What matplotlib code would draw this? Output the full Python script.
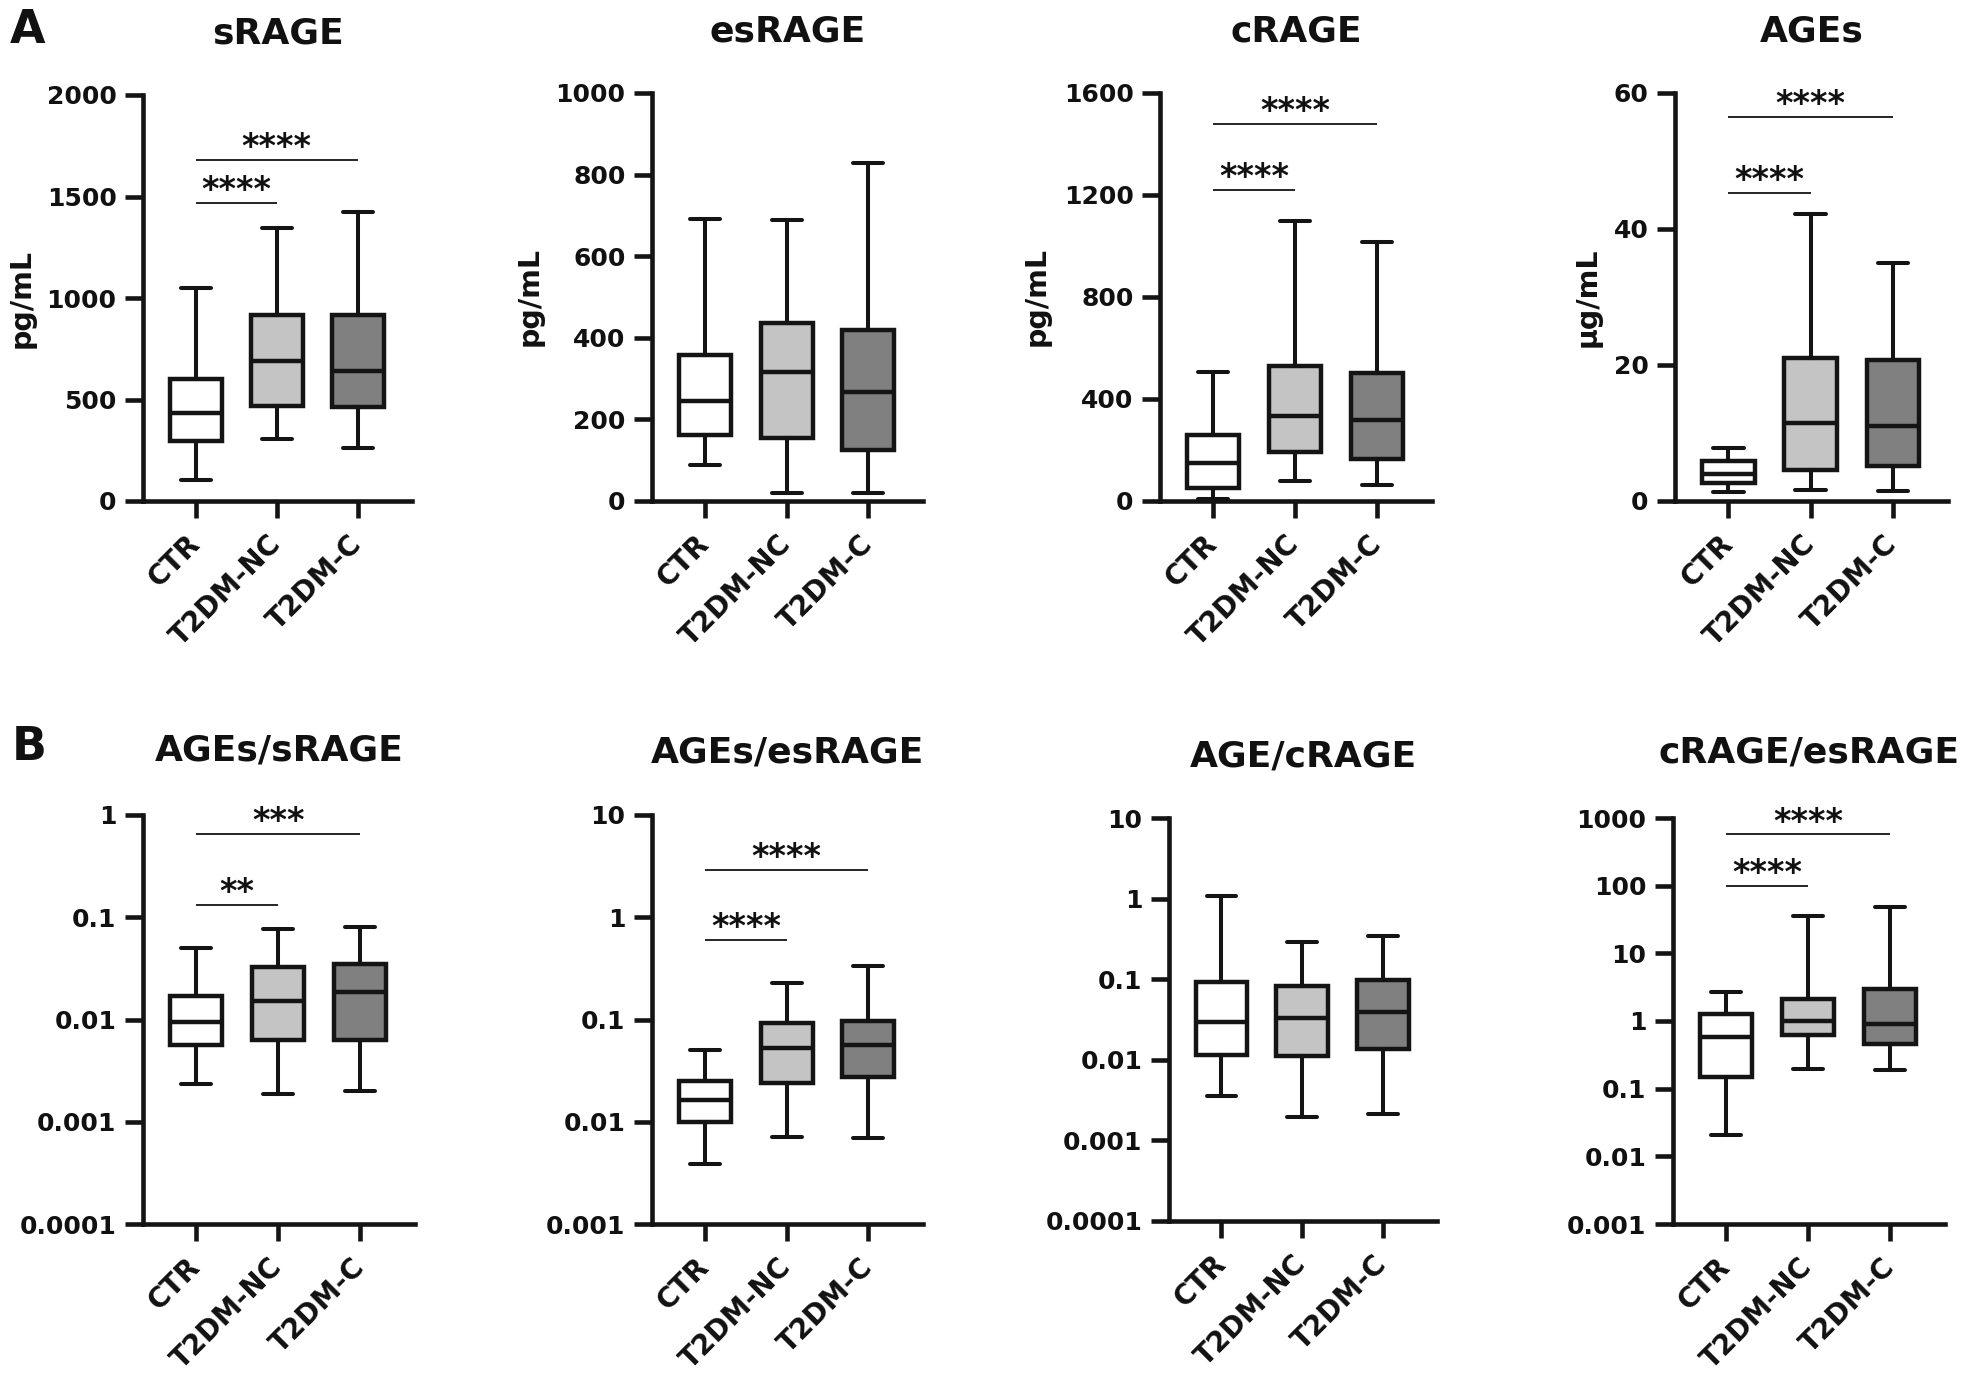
import matplotlib
matplotlib.use('Agg')
import matplotlib.pyplot as plt
from matplotlib.ticker import NullLocator

# ---------------- data ----------------
groups = ['CTR', 'T2DM-NC', 'T2DM-C']
fills = ['#ffffff', '#c4c4c4', '#808080']

# five-number summaries per group: [whisker low, Q1, median, Q3, whisker high]
sRAGE = [[102, 294, 432, 602, 1049],
         [304, 470, 691, 917, 1343],
         [262, 464, 640, 915, 1426]]
esRAGE = [[88, 162, 244, 358, 691],
          [19, 154, 317, 437, 688],
          [19, 125, 266, 419, 828]]
cRAGE = [[8, 51, 149, 259, 505],
         [78, 191, 332, 530, 1097],
         [64, 166, 318, 501, 1016]]
AGEs = [[1.3, 2.7, 4.0, 5.9, 7.8],
        [1.6, 4.6, 11.4, 21.1, 42.2],
        [1.5, 5.1, 11.1, 20.8, 35.0]]
AGEs_sRAGE = [[0.00236, 0.00566, 0.0094, 0.0170, 0.0505],
              [0.00185, 0.00637, 0.0153, 0.0326, 0.0767],
              [0.0020, 0.00624, 0.0185, 0.0352, 0.0805]]
AGEs_esRAGE = [[0.00383, 0.0100, 0.0163, 0.0248, 0.0504],
               [0.00713, 0.0240, 0.0524, 0.092, 0.2255],
               [0.0070, 0.0273, 0.0566, 0.0966, 0.333]]
AGE_cRAGE = [[0.00356, 0.01146, 0.0296, 0.0929, 1.09],
             [0.00197, 0.0110, 0.0326, 0.082, 0.288],
             [0.00212, 0.01343, 0.0393, 0.0964, 0.347]]
cRAGE_esRAGE = [[0.0209, 0.148, 0.572, 1.25, 2.72],
                [0.193, 0.615, 1.0, 2.08, 35.1],
                [0.19, 0.459, 0.90, 3.01, 47.7]]

# y ticks
yt_sRAGE = [0, 500, 1000, 1500, 2000]
yt_esRAGE = [0, 200, 400, 600, 800, 1000]
yt_cRAGE = [0, 400, 800, 1200, 1600]
yt_AGEs = [0, 20, 40, 60]
yt_AGEs_sRAGE = [0.0001, 0.001, 0.01, 0.1, 1]
yt_AGEs_esRAGE = [0.001, 0.01, 0.1, 1, 10]
yt_AGE_cRAGE = [0.0001, 0.001, 0.01, 0.1, 1, 10]
yt_cRAGE_esRAGE = [0.001, 0.01, 0.1, 1, 10, 100, 1000]

# significance brackets: (group a, group b, level, label)
sig_sRAGE = [(0, 1, 1468, '****'), (0, 2, 1680, '****')]
sig_cRAGE = [(0, 1, 1219, '****'), (0, 2, 1478, '****')]
sig_AGEs = [(0, 1, 45.3, '****'), (0, 2, 56.5, '****')]
sig_AGEs_sRAGE = [(0, 1, 0.131, '**'), (0, 2, 0.652, '***')]
sig_AGEs_esRAGE = [(0, 1, 0.596, '****'), (0, 2, 2.91, '****')]
sig_cRAGE_esRAGE = [(0, 1, 98, '****'), (0, 2, 572, '****')]

# ---------------- figure ----------------
plt.rcParams['font.family'] = ['DejaVu Sans']
plt.rcParams['font.weight'] = 'bold'

W, H = 1961, 1378
fig = plt.figure(figsize=(W / 100, H / 100), dpi=100)
ink = '#141414'
txt = '#111111'


def logfmt(v):
    return f'{v:.4f}'.rstrip('0').rstrip('.') if v < 1 else f'{int(v)}'


panels = [
    dict(title='sRAGE', stats=sRAGE, ticks=yt_sRAGE, log=False, ylabel='pg/mL',
         sig=sig_sRAGE, rect=(143, 412, 95, 501), tb=43, ylx=22),
    dict(title='esRAGE', stats=esRAGE, ticks=yt_esRAGE, log=False, ylabel='pg/mL',
         sig=[], rect=(652, 923, 93, 501), tb=41, ylx=530),
    dict(title='cRAGE', stats=cRAGE, ticks=yt_cRAGE, log=False, ylabel='pg/mL',
         sig=sig_cRAGE, rect=(1160, 1432, 93, 501), tb=41, ylx=1037),
    dict(title='AGEs', stats=AGEs, ticks=yt_AGEs, log=False, ylabel='µg/mL',
         sig=sig_AGEs, rect=(1675, 1948, 93, 501), tb=41, ylx=1588),
    dict(title='AGEs/sRAGE', stats=AGEs_sRAGE, ticks=yt_AGEs_sRAGE, log=True, ylabel=None,
         sig=sig_AGEs_sRAGE, rect=(143, 415, 815, 1224), tb=760, ylx=None),
    dict(title='AGEs/esRAGE', stats=AGEs_esRAGE, ticks=yt_AGEs_esRAGE, log=True, ylabel=None,
         sig=sig_AGEs_esRAGE, rect=(652, 923, 815, 1224), tb=762, ylx=None),
    dict(title='AGE/cRAGE', stats=AGE_cRAGE, ticks=yt_AGE_cRAGE, log=True, ylabel=None,
         sig=[], rect=(1169, 1437, 818, 1221), tb=767, ylx=None),
    dict(title='cRAGE/esRAGE', stats=cRAGE_esRAGE, ticks=yt_cRAGE_esRAGE, log=True, ylabel=None,
         sig=sig_cRAGE_esRAGE, rect=(1673, 1945, 818, 1224), tb=762, ylx=None),
]

for p in panels:
    x0, x1, y0, y1 = p['rect']
    ax = fig.add_axes([x0 / W, 1 - y1 / H, (x1 - x0) / W, (y1 - y0) / H])
    bstats = [dict(whislo=s[0], q1=s[1], med=s[2], q3=s[3], whishi=s[4], fliers=[])
              for s in p['stats']]
    bp = ax.bxp(bstats, positions=[0, 1, 2], widths=0.64, capwidths=0.37,
                patch_artist=True, showfliers=False, manage_ticks=False,
                boxprops=dict(linewidth=3.2, edgecolor=ink, joinstyle='miter'),
                whiskerprops=dict(linewidth=2.9, color=ink),
                capprops=dict(linewidth=2.9, color=ink, solid_capstyle='round'),
                medianprops=dict(linewidth=3.2, color=ink))
    for patch, c in zip(bp['boxes'], fills):
        patch.set_facecolor(c)
    for ln in bp['whiskers'] + bp['caps'] + bp['medians']:
        ln.set_clip_on(False)

    if p['log']:
        ax.set_yscale('log')
    ax.set_xlim(-0.65, 2.67)
    ax.set_ylim(p['ticks'][0], p['ticks'][-1])
    ax.set_yticks(p['ticks'])
    if p['log']:
        ax.set_yticklabels([logfmt(v) for v in p['ticks']])
    else:
        ax.set_yticklabels([str(v) for v in p['ticks']])
    ax.yaxis.set_minor_locator(NullLocator())
    ax.set_xticks([0, 1, 2])
    ax.set_xticklabels(groups, rotation=45, ha='right', va='center',
                       rotation_mode='anchor')

    for s in ['top', 'right']:
        ax.spines[s].set_visible(False)
    for s in ['left', 'bottom']:
        ax.spines[s].set_linewidth(3.3)
        ax.spines[s].set_color(ink)
        ax.spines[s].set_capstyle('projecting')
    ax.tick_params(axis='y', length=13, width=3.3, color=ink, labelsize=18,
                   pad=6, labelcolor=txt)
    ax.tick_params(axis='x', length=12, width=3.3, color=ink, labelsize=20,
                   pad=16, labelcolor=txt)
    ax.patch.set_visible(False)

    fig.text((x0 + x1) / 2 / W, 1 - p['tb'] / H, p['title'], ha='center',
             va='baseline', fontsize=26, fontweight='bold', color=txt)

    if p['ylabel']:
        fig.text(p['ylx'] / W, 1 - ((y0 + y1) / 2) / H, p['ylabel'], rotation=90,
                 ha='center', va='center', fontsize=20.5, fontweight='bold', color=txt)

    for a, b, lvl, lab in p['sig']:
        ax.plot([a, b], [lvl, lvl], color=ink, lw=1.3, solid_capstyle='butt',
                clip_on=False)
        ax.annotate(lab, xy=((a + b) / 2, lvl), xytext=(0, 2),
                    textcoords='offset points', ha='center', va='baseline',
                    fontsize=24, fontweight='bold', color=txt, annotation_clip=False)

fig.text(10 / W, 1 - 43 / H, 'A', ha='left', va='baseline', fontsize=33,
         fontweight='bold', color=txt)
fig.text(12 / W, 1 - 760 / H, 'B', ha='left', va='baseline', fontsize=33,
         fontweight='bold', color=txt)

fig.savefig('out.png', dpi=100, facecolor='white')
